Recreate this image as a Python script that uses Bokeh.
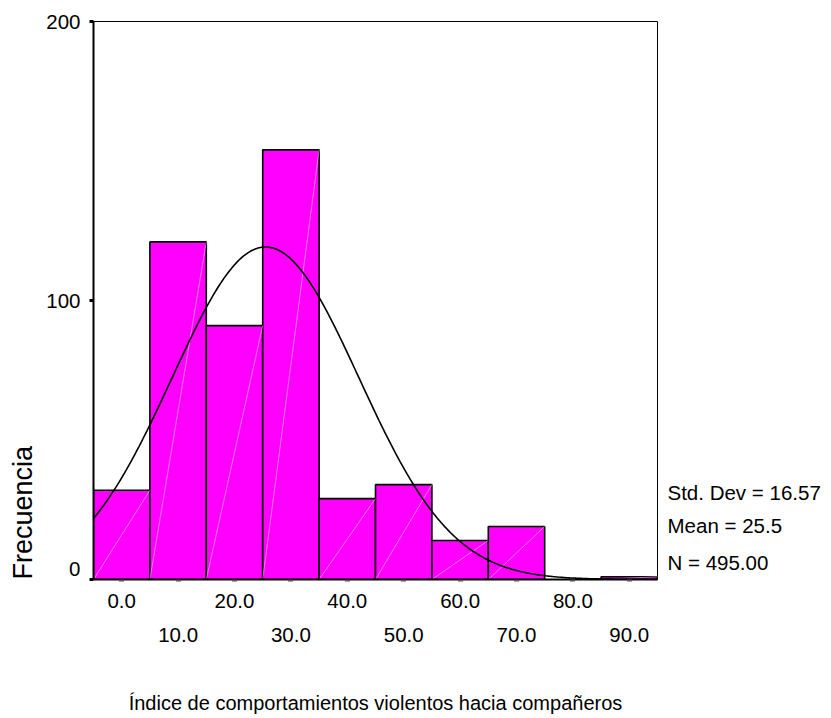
import numpy as np
from bokeh.plotting import figure
from bokeh.models import Range1d, FixedTicker, LinearAxis, Title, ColumnDataSource
from bokeh.embed import file_html
from bokeh.resources import INLINE

# ---- data ----
bin_centers = [0, 10, 20, 30, 40, 50, 60, 70, 80, 90]
counts = [32, 121, 91, 154, 29, 34, 14, 19, 0, 1]
bin_width = 10
std_dev = 16.57
mean = 25.5
n_total = 495
y_ticks = [0, 100, 200]
y_label_pos = [3.9, 100, 200]
y_labels = ["0", "100", "200"]
x_ticks_row1 = [0, 20, 40, 60, 80]
x_ticks_row2 = [10, 30, 50, 70, 90]
x_labels_row1 = ["0.0", "20.0", "40.0", "60.0", "80.0"]
x_labels_row2 = ["10.0", "30.0", "50.0", "70.0", "90.0"]
stats_lines = ["Std. Dev = 16.57", "Mean = 25.5", "N = 495.00"]
stats_pos = [31.2, 19.4, 6.1]
x_title = "Índice de comportamientos violentos hacia compañeros"
y_title = "Frecuencia"

FONT = "Liberation Sans"
TICK_FS = "20.5px"

p = figure(width=823, height=716, output_backend="svg", toolbar_location=None,
           x_range=Range1d(-5, 95), y_range=Range1d(0, 200),
           min_border_left=93, min_border_right=162, min_border_top=21,
           min_border_bottom=137)
p.background_fill_color = "white"
p.border_fill_color = "white"
p.outline_line_color = "black"
p.outline_line_width = 1
p.xgrid.visible = False
p.ygrid.visible = False

lefts = [c - bin_width / 2 for c in bin_centers]
rights = [c + bin_width / 2 for c in bin_centers]
nz = [i for i, c in enumerate(counts) if c > 0]
src_nz = ColumnDataSource(dict(left=[lefts[i] for i in nz], right=[rights[i] for i in nz],
                               top=[counts[i] for i in nz], bottom=[0] * len(nz)))
p.quad(left="left", right="right", top="top", bottom="bottom", source=src_nz,
       fill_color="#FF00FF", line_color="black", line_width=1.6)
p.segment(x0="left", y0="bottom", x1="right", y1="top", source=src_nz,
          line_color="white", line_alpha=0.45, line_width=1)

# fitted normal curve from the displayed statistics
xs = np.linspace(-5, 95, 400)
ys = n_total * bin_width / (std_dev * np.sqrt(2 * np.pi)) * np.exp(-0.5 * ((xs - mean) / std_dev) ** 2)
p.line(xs, ys, line_color="black", line_width=1.6)

# y axis 1: line and ticks only
ya = p.yaxis[0]
ya.ticker = FixedTicker(ticks=y_ticks)
ya.major_label_overrides = {t: "" for t in y_ticks}
ya.minor_tick_line_color = None
ya.major_tick_in = 0
ya.major_tick_out = 4
ya.major_tick_line_width = 3
ya.axis_line_width = 2
ya.major_label_standoff = 0

# y axis 2: labels only
ya2 = LinearAxis(ticker=FixedTicker(ticks=y_label_pos),
                 major_label_overrides={t: l for t, l in zip(y_label_pos, y_labels)})
ya2.axis_line_color = None
ya2.major_tick_line_color = None
ya2.minor_tick_line_color = None
ya2.major_tick_in = 0
ya2.major_tick_out = 0
ya2.major_label_standoff = 9
ya2.major_label_text_font = FONT
ya2.major_label_text_font_size = TICK_FS
ya2.major_label_text_color = "black"
p.add_layout(ya2, "left")

p.add_layout(Title(text=y_title, align="left", text_font=FONT, text_font_size="27px",
                   text_font_style="normal", text_color="black", standoff=11), "left")

# x axis row 1
xa = p.xaxis[0]
xa.ticker = FixedTicker(ticks=bin_centers)
ov = {t: l for t, l in zip(x_ticks_row1, x_labels_row1)}
ov.update({t: "" for t in x_ticks_row2})
xa.major_label_overrides = ov
xa.minor_tick_line_color = None
xa.major_tick_in = 0
xa.major_tick_out = 2
xa.major_tick_line_width = 5
xa.major_tick_line_color = "#555555"
xa.axis_line_width = 2
xa.major_label_standoff = 12
xa.major_label_text_font = FONT
xa.major_label_text_font_size = TICK_FS
xa.major_label_text_color = "black"

# x axis row 2
xa2 = LinearAxis(ticker=FixedTicker(ticks=x_ticks_row2),
                 major_label_overrides={t: l for t, l in zip(x_ticks_row2, x_labels_row2)})
xa2.axis_line_color = None
xa2.major_tick_line_color = None
xa2.minor_tick_line_color = None
xa2.major_tick_out = 0
xa2.major_tick_in = 0
xa2.major_label_standoff = 17
xa2.major_label_text_font = FONT
xa2.major_label_text_font_size = TICK_FS
xa2.major_label_text_color = "black"
xa2.axis_label = x_title
xa2.axis_label_text_font = FONT
xa2.axis_label_text_font_size = "20px"
xa2.axis_label_text_font_style = "normal"
xa2.axis_label_text_color = "black"
xa2.axis_label_standoff = 47
p.add_layout(xa2, "below")

# statistics text on the right, as a label-only axis
ra = LinearAxis(ticker=FixedTicker(ticks=stats_pos),
                major_label_overrides={t: l for t, l in zip(stats_pos, stats_lines)})
ra.axis_line_color = None
ra.major_tick_line_color = None
ra.minor_tick_line_color = None
ra.major_tick_out = 0
ra.major_tick_in = 0
ra.major_label_standoff = 10
ra.major_label_text_font = FONT
ra.major_label_text_font_size = TICK_FS
ra.major_label_text_color = "black"
p.add_layout(ra, "right")

open("out.html", "w").write(file_html(p, INLINE))
